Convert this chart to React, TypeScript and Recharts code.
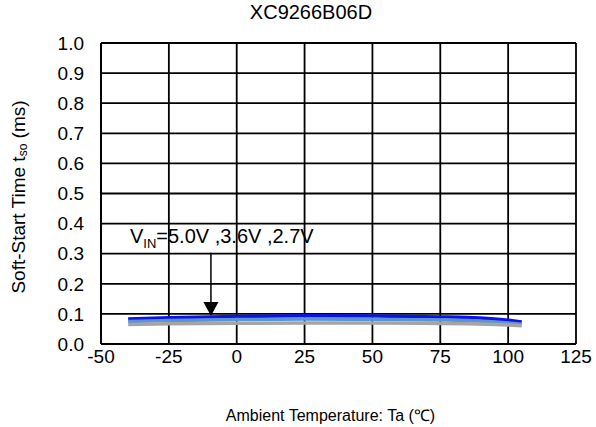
import React from "react";
import {
  LineChart,
  Line,
  XAxis,
  YAxis,
  CartesianGrid,
  ReferenceLine,
} from "recharts";

const temps = [-40, -25, 0, 25, 50, 75, 85, 100, 105];
const vin50 = [0.083, 0.087, 0.091, 0.094, 0.093, 0.09, 0.088, 0.079, 0.073];
const vin36 = [0.075, 0.078, 0.081, 0.083, 0.082, 0.08, 0.078, 0.07, 0.066];
const vin27 = [0.065, 0.067, 0.069, 0.07, 0.07, 0.068, 0.067, 0.063, 0.061];
const xTicks = [-50, -25, 0, 25, 50, 75, 100, 125];
const yTicks = [0, 0.1, 0.2, 0.3, 0.4, 0.5, 0.6, 0.7, 0.8, 0.9, 1.0];

const data = temps.map((t, i) => ({
  t,
  v50: vin50[i],
  v36: vin36[i],
  v27: vin27[i],
}));

const FONT = "'Liberation Sans', Arial, sans-serif";

function YTitle() {
  const cx = 18;
  const cy = 197;
  return (
    <text
      x={cx}
      y={cy}
      transform={`rotate(-90 ${cx} ${cy})`}
      textAnchor="middle"
      dominantBaseline="central"
      fontFamily={FONT}
      fontSize={19}
      fill="#000"
    >
      Soft-Start Time t
      <tspan fontSize={12} dy={5}>so</tspan>
      <tspan dy={-5}> (ms)</tspan>
    </text>
  );
}

function Arrow(props: any) {
  const { x1, y1, x2, y2 } = props;
  const head = 14;
  return (
    <g>
      <line x1={x1} y1={y1 + 2} x2={x2} y2={y2 - head} stroke="#000" strokeWidth={1.5} />
      <polygon
        points={`${x2 - 7.5},${y2 - head} ${x2 + 7.5},${y2 - head} ${x2},${y2}`}
        fill="#000"
      />
      <text x={x1 - 81} y={y1 - 8} fontFamily={FONT} fontSize={20} fill="#000">
        V<tspan fontSize={13} dy={5}>IN</tspan>
        <tspan dy={-5}>=5.0V ,3.6V ,2.7V</tspan>
      </text>
    </g>
  );
}

export default function App() {
  return (
    <div
      style={{
        position: "absolute",
        left: 0,
        top: 0,
        width: 596,
        height: 427,
        background: "#fff",
        fontFamily: FONT,
      }}
    >
      <div
        style={{
          position: "absolute",
          top: 0,
          left: 0,
          width: 622,
          textAlign: "center",
          fontSize: 20,
          lineHeight: "24px",
          color: "#000",
        }}
      >
        XC9266B06D
      </div>
      <LineChart
        width={596}
        height={427}
        data={data}
        margin={{ top: 43, right: 20, bottom: 0, left: 0 }}
      >
        <CartesianGrid stroke="#000" strokeWidth={1.8} />
        <XAxis
          dataKey="t"
          type="number"
          domain={[-50, 125]}
          ticks={xTicks}
          interval={0}
          height={83}
          tickLine={false}
          tickSize={0}
          tickMargin={6}
          axisLine={{ stroke: "#000", strokeWidth: 2 }}
          tick={{ fill: "#000", fontSize: 19, fontFamily: FONT }}
          label={{
            value: "Ambient Temperature: Ta (\u2103)",
            position: "insideBottom",
            offset: 6,
            dx: -8,
            fill: "#000",
            fontSize: 16,
            fontFamily: FONT,
          }}
        />
        <YAxis
          type="number"
          domain={[0, 1]}
          ticks={yTicks}
          interval={0}
          width={101}
          tickLine={false}
          tickSize={0}
          tickMargin={17}
          tickFormatter={(v: number) => v.toFixed(1)}
          axisLine={{ stroke: "#000", strokeWidth: 2 }}
          tick={{ fill: "#000", fontSize: 19, fontFamily: FONT }}
          label={<YTitle />}
        />
        <ReferenceLine
          segment={[
            { x: -9.5, y: 0.31 },
            { x: -9.5, y: 0.093 },
          ]}
          shape={(p: any) => <Arrow {...p} />}
        />
        <Line
          dataKey="v50"
          type="monotone"
          stroke="#0a14e6"
          strokeWidth={3.5}
          dot={false}
          isAnimationActive={false}
        />
        <Line
          dataKey="v36"
          type="monotone"
          stroke="#5b93d3"
          strokeWidth={3.5}
          dot={false}
          isAnimationActive={false}
        />
        <Line
          dataKey="v27"
          type="monotone"
          stroke="#a5a5a5"
          strokeWidth={3.5}
          dot={false}
          isAnimationActive={false}
        />
      </LineChart>
    </div>
  );
}
